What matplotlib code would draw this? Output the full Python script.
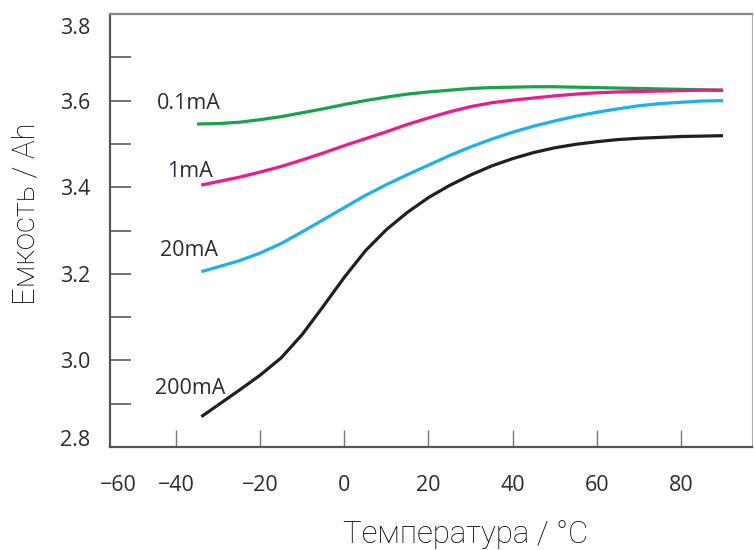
import matplotlib
matplotlib.use("Agg")
import matplotlib.pyplot as plt
import numpy as np

# temperatures (degC) and capacity (Ah) per discharge current
temp = [-34, -30, -25, -20, -15, -10, -5, 0, 5, 10, 15, 20, 25, 30, 35, 40,
        45, 50, 55, 60, 65, 70, 75, 80, 85, 90]
temp_green = [-35] + temp[1:]

cap_01mA = [3.546, 3.547, 3.550, 3.556, 3.563, 3.572, 3.581, 3.591, 3.600, 3.608,
            3.615, 3.620, 3.624, 3.628, 3.630, 3.631, 3.632, 3.632, 3.631, 3.630,
            3.629, 3.628, 3.627, 3.626, 3.625, 3.624]
cap_1mA = [3.405, 3.413, 3.423, 3.435, 3.448, 3.463, 3.479, 3.496, 3.512, 3.528,
           3.545, 3.560, 3.574, 3.586, 3.595, 3.601, 3.606, 3.611, 3.615, 3.618,
           3.620, 3.621, 3.622, 3.623, 3.624, 3.624]
cap_20mA = [3.205, 3.216, 3.230, 3.248, 3.270, 3.297, 3.325, 3.353, 3.381, 3.406,
            3.429, 3.451, 3.473, 3.493, 3.511, 3.527, 3.541, 3.553, 3.564, 3.573,
            3.581, 3.588, 3.593, 3.596, 3.599, 3.600]
cap_200mA = [2.870, 2.897, 2.931, 2.966, 3.006, 3.060, 3.125, 3.192, 3.253, 3.302,
             3.342, 3.376, 3.404, 3.428, 3.449, 3.466, 3.480, 3.491, 3.499, 3.505,
             3.510, 3.513, 3.515, 3.517, 3.518, 3.519]

series_labels = ['0.1mA', '1mA', '20mA', '200mA']
colors = ['#17a34a', '#ec1a8c', '#1cb1ee', '#231f20']

xtick_labels = ['\u221260', '\u221240', '\u221220', '0', '20', '40', '60', '80']
ytick_labels = ['2.8', '3.0', '3.2', '3.4', '3.6', '3.8']

fig = plt.figure(figsize=(7.54, 5.5), dpi=100)
ax = fig.add_axes([110 / 754, 103 / 550, 642 / 754, 433 / 550])

xs = [temp_green, temp, temp, temp]
ys = [cap_01mA, cap_1mA, cap_20mA, cap_200mA]
for x, y, c in zip(xs, ys, colors):
    ax.plot(x, y, color=c, linewidth=2.3, solid_capstyle='butt',
            solid_joinstyle='round')

# curve names, placed left of each curve start
label_pos = [(-36.9, 3.594), (-36.7, 3.437), (-36.9, 3.253), (-36.7, 2.936)]
for (lx, ly), s in zip(label_pos, series_labels):
    ax.text(lx, ly, s, ha='center', va='center', fontsize=15.5,
            family='Open Sans', color='#2b2b35')

ax.set_xlim(-55.7, 96.9)
ax.set_ylim(2.8, 3.8)

# labels as drawn in the source: -60 sits left of the first tick, 2.8/3.8 pulled in
ax.set_xticks([-53.8, -40, -20, 0, 20, 40, 60, 80])
ax.set_xticklabels(xtick_labels)
ax.set_yticks([2.821, 3.0, 3.2, 3.4, 3.6, 3.772])
ax.set_yticklabels(ytick_labels)
ax.set_yticks([2.9, 3.1, 3.3, 3.5, 3.7], minor=True)

ax.tick_params(axis='x', direction='in', length=12, width=1.0, color='#777777',
               pad=20, labelsize=15.5, labelcolor='#2b2b35')
ax.tick_params(axis='y', which='both', direction='in', length=15, width=1.3,
               color='#666666', pad=14, labelsize=15.5, labelcolor='#2b2b35')
for lab in ax.get_xticklabels() + ax.get_yticklabels():
    lab.set_family('Open Sans')

ax.xaxis.get_major_ticks()[0].tick1line.set_visible(False)
ax.yaxis.get_major_ticks()[0].tick1line.set_visible(False)
ax.yaxis.get_major_ticks()[-1].tick1line.set_visible(False)

ax.spines['left'].set_color('#555555')
ax.spines['left'].set_linewidth(1.6)
ax.spines['bottom'].set_color('#555555')
ax.spines['bottom'].set_linewidth(1.6)
ax.spines['top'].set_color('#8a8a8a')
ax.spines['top'].set_linewidth(1.6)
ax.spines['right'].set_color('#b0b0b0')
ax.spines['right'].set_linewidth(0.8)

fig.text(26 / 754, 1 - 214 / 550, 'Емкость / Ah', rotation=90, ha='center',
         va='center', fontsize=22.5, family='Roboto', weight='light', color='#000000')
fig.text(466 / 754, 1 - 543 / 550, 'Температура / °C', ha='center',
         va='baseline', fontsize=22.5, family='Roboto', weight='light', color='#000000')

fig.savefig('out.png', dpi=100)
